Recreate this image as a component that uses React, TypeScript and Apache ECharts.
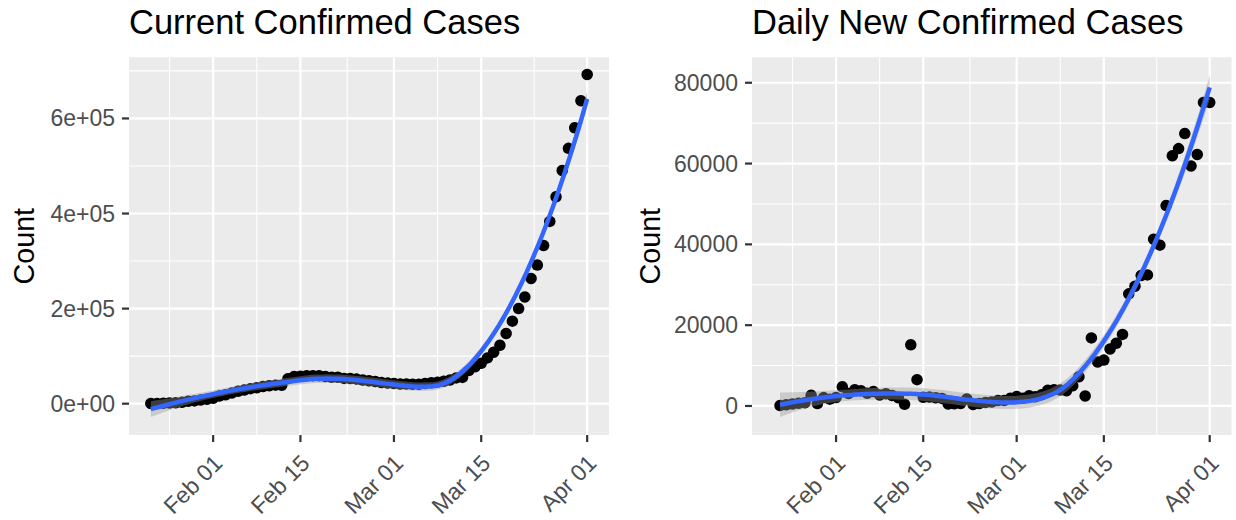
import React, { useEffect, useRef } from "react";
import * as echarts from "echarts";

const FONT = "'Liberation Sans', Arial, Helvetica, sans-serif";
const START_DATE = "2020-01-22";

// Active (current) confirmed cases worldwide, one value per day, Jan 22 - Apr 1 2020
const currentConfirmed: number[] = [
  510, 606, 879, 1353, 2010, 2784, 5340, 5907, 7920, 9492,
  11495, 15953, 18832, 22548, 25947, 28673, 31661, 33698, 36000, 37803,
  39006, 38953, 52702, 57304, 57969, 58589, 58807, 58777, 57396, 55773,
  55678, 53228, 53095, 51705, 49793, 48234, 46655, 44529, 43288,
  42657, 41619, 41452, 40696, 40742, 42476, 43931, 45325, 47108, 49954,
  54257, 55308, 69550, 77658, 84980, 96360, 108357, 122881, 147849, 173653,
  200035, 224626, 263387, 291540, 332868, 383448, 435173, 490640, 537067, 580219,
  637346, 692619,
];

// New confirmed cases per day (no difference available for the first day)
const dailyNew: (number | null)[] = [
  null, 99, 287, 493, 684, 809, 2651, 588, 2068, 1693,
  2111, 4749, 3094, 4011, 3743, 3159, 3597, 2729, 3030, 2612,
  2040, 419, 15147, 6517, 2145, 2194, 2034, 1878, 503, 558,
  622, 1753, 386, 603, 845, 982, 1358, 1366, 1899,
  2358, 1937, 2534, 2280, 2766, 3915, 4046, 3974, 3769, 5030,
  7255, 2477, 16853, 10896, 11353, 14120, 15528, 17719, 27749, 29638,
  32299, 32446, 41282, 39810, 49608, 61938, 63700, 67415, 59411, 62248,
  75122, 75118,
];

const xBreakDates = ["2020-02-01", "2020-02-15", "2020-03-01", "2020-03-15", "2020-04-01"];
const leftBreaks = [0, 200000, 400000, 600000];
const leftMinor = [100000, 300000, 500000, 700000];
const rightBreaks = [0, 20000, 40000, 60000, 80000];
const rightMinor = [10000, 30000, 50000, 70000];

const MONTHS = ["Jan", "Feb", "Mar", "Apr", "May", "Jun", "Jul", "Aug", "Sep", "Oct", "Nov", "Dec"];
const DAY_MS = 86400000;
const dayOf = (s: string) => (Date.parse(s) - Date.parse(START_DATE)) / DAY_MS;
const fmtDate = (v: number) => {
  const d = new Date(Date.parse(START_DATE) + Math.round(v) * DAY_MS);
  return `${MONTHS[d.getUTCMonth()]} ${String(d.getUTCDate()).padStart(2, "0")}`;
};
const fmtSci = (v: number) => {
  const [m, e] = v.toExponential(0).split("e");
  return `${m}e${e[0]}${e.slice(1).padStart(2, "0")}`;
};

const xMajor = xBreakDates.map(dayOf);
// minor breaks halfway between major ones, plus one step before the first
const xMinor = [xMajor[0] - (xMajor[1] - xMajor[0]) / 2].concat(
  xMajor.slice(1).map((v, i) => (v + xMajor[i]) / 2)
);

const X_MIN = -3.5;
const X_MAX = 73.5;
const LEFT_Y: [number, number] = [-66000, 728600];
const RIGHT_Y: [number, number] = [-7200, 86300];

// ---- local quadratic regression (loess, tricube weights, span 0.75) ----
function invert3(m: number[][]): number[][] {
  const [a, b, c] = m[0];
  const [d, e, f] = m[1];
  const [g, h, i] = m[2];
  const A = e * i - f * h, B = -(d * i - f * g), C = d * h - e * g;
  const det = a * A + b * B + c * C;
  return [
    [A / det, -(b * i - c * h) / det, (b * f - c * e) / det],
    [B / det, (a * i - c * g) / det, -(a * f - c * d) / det],
    [C / det, -(a * h - b * g) / det, (a * e - b * d) / det],
  ];
}

function loess(xs: number[], ys: number[], nOut = 80, span = 0.75, tCrit = 2.0) {
  const n = xs.length;
  const q = Math.floor(n * span);
  const rowAt = (x0: number): number[] => {
    const dist = xs.map((x) => Math.abs(x - x0));
    const h = [...dist].sort((p, r) => p - r)[q - 1];
    const w = dist.map((d) => {
      const r = d / h;
      return r < 1 ? Math.pow(1 - r * r * r, 3) : 0;
    });
    const basis = xs.map((x) => {
      const u = (x - x0) / h;
      return [1, u, u * u];
    });
    const S = [[0, 0, 0], [0, 0, 0], [0, 0, 0]];
    for (let k = 0; k < n; k++)
      for (let a = 0; a < 3; a++)
        for (let c = 0; c < 3; c++) S[a][c] += w[k] * basis[k][a] * basis[k][c];
    const inv = invert3(S);
    return basis.map((b, k) => w[k] * (inv[0][0] * b[0] + inv[0][1] * b[1] + inv[0][2] * b[2]));
  };
  const L = xs.map(rowAt);
  let rss = 0, trL = 0, sumSq = 0;
  L.forEach((row, i) => {
    const f = row.reduce((s, l, j) => s + l * ys[j], 0);
    rss += (ys[i] - f) ** 2;
    trL += row[i];
    row.forEach((l) => (sumSq += l * l));
  });
  const sigma = Math.sqrt(rss / (n - 2 * trL + sumSq));
  const x0 = Math.min(...xs), x1 = Math.max(...xs);
  const gx: number[] = [], fit: number[] = [], lo: number[] = [], hi: number[] = [];
  for (let k = 0; k < nOut; k++) {
    const x = x0 + ((x1 - x0) * k) / (nOut - 1);
    const row = rowAt(x);
    const f = row.reduce((s, l, j) => s + l * ys[j], 0);
    const se = sigma * Math.sqrt(row.reduce((s, l) => s + l * l, 0));
    gx.push(x); fit.push(f); lo.push(f - tCrit * se); hi.push(f + tCrit * se);
  }
  return { gx, fit, lo, hi };
}

function panelData(values: (number | null)[]) {
  const xs: number[] = [], ys: number[] = [];
  values.forEach((v, i) => {
    if (v !== null) { xs.push(i); ys.push(v); }
  });
  return { xs, ys, smooth: loess(xs, ys) };
}

const textBase = { fontFamily: FONT };
const TICK_LEN = 7;

function buildPanel(idx: number, values: (number | null)[], yMajor: number[], yMinor: number[]) {
  const { xs, ys, smooth } = panelData(values);
  // white panel grid lines, placed through the axes' scales
  const gridSeries = {
    type: "custom",
    xAxisIndex: idx, yAxisIndex: idx, z: 1, silent: true,
    data: [[0, 0]],
    renderItem: (params: any, api: any) => {
      const cs = params.coordSys;
      const bottom = cs.y + cs.height;
      const children: any[] = [];
      const seg = (x1: number, y1: number, x2: number, y2: number, lw: number) =>
        children.push({ type: "line", shape: { x1, y1, x2, y2 }, style: { stroke: "#FFFFFF", lineWidth: lw } });
      xMinor.forEach((v) => { const px = api.coord([v, 0])[0]; seg(px, cs.y, px, bottom, 1.1); });
      yMinor.forEach((v) => { const py = api.coord([0, v])[1]; seg(cs.x, py, cs.x + cs.width, py, 1.1); });
      xMajor.forEach((v) => { const px = api.coord([v, 0])[0]; seg(px, cs.y, px, bottom, 2.2); });
      yMajor.forEach((v) => { const py = api.coord([0, v])[1]; seg(cs.x, py, cs.x + cs.width, py, 2.2); });
      return { type: "group", children };
    },
  };
  const points = {
    type: "scatter", xAxisIndex: idx, yAxisIndex: idx, z: 2, silent: true,
    symbol: "circle", symbolSize: 11.5,
    itemStyle: { color: "#000000", opacity: 1 },
    data: xs.map((x, i) => [x, ys[i]]),
  };
  const ribbon = {
    type: "custom", xAxisIndex: idx, yAxisIndex: idx, z: 3, silent: true,
    data: [[0, 0]],
    renderItem: (_params: any, api: any) => {
      const upper = smooth.gx.map((x, k) => api.coord([x, smooth.hi[k]]));
      const lower = smooth.gx.map((x, k) => api.coord([x, smooth.lo[k]])).reverse();
      return { type: "polygon", shape: { points: upper.concat(lower) }, style: { fill: "#999999", opacity: 0.4 } };
    },
  };
  const line = {
    type: "line", xAxisIndex: idx, yAxisIndex: idx, z: 4, silent: true,
    showSymbol: false, symbol: "none",
    lineStyle: { color: "#3366FF", width: 4.5 },
    data: smooth.gx.map((x, k) => [x, smooth.fit[k]]),
  };
  const xAxis = {
    type: "value", gridIndex: idx, min: X_MIN, max: X_MAX,
    axisLine: { show: false, onZero: false },
    splitLine: { show: false },
    axisTick: { show: false },
    axisLabel: {
      customValues: xMajor, formatter: fmtDate, rotate: 45, margin: 29, padding: [0, -7, 0, 0],
      color: "#4D4D4D", fontSize: 23, ...textBase,
    },
  };
  return { series: [gridSeries, points, ribbon, line], xAxis };
}

const left = buildPanel(0, currentConfirmed, leftBreaks, leftMinor);
const right = buildPanel(1, dailyNew, rightBreaks, rightMinor);

const yAxisOf = (idx: number, range: [number, number], major: number[], fmt: (v: number) => string, nameGap: number) => ({
  type: "value", gridIndex: idx, min: range[0], max: range[1],
  name: "Count", nameLocation: "middle", nameRotate: 90, nameGap,
  nameTextStyle: { color: "#000000", fontSize: 28.7, ...textBase },
  axisLine: { show: false, onZero: false },
  splitLine: { show: false },
  axisTick: { show: false },
  axisLabel: { customValues: major, formatter: fmt, margin: 14, color: "#4D4D4D", fontSize: 23, ...textBase },
});

const option = {
  animation: false,
  backgroundColor: "#FFFFFF",
  title: [
    { text: "Current Confirmed Cases", left: 129, top: 4, padding: 0, textStyle: { color: "#000000", fontSize: 34.5, fontWeight: "normal", ...textBase } },
    { text: "Daily New Confirmed Cases", left: 752, top: 4, padding: 0, textStyle: { color: "#000000", fontSize: 34.5, fontWeight: "normal", ...textBase } },
  ],
  grid: [
    { left: 129, top: 57.3, width: 480, height: 382.7, show: true, backgroundColor: "#EBEBEB", borderWidth: 0, containLabel: false },
    { left: 752, top: 57.3, width: 479.5, height: 382.7, show: true, backgroundColor: "#EBEBEB", borderWidth: 0, containLabel: false },
  ],
  xAxis: [left.xAxis, right.xAxis],
  yAxis: [
    yAxisOf(0, LEFT_Y, leftBreaks, fmtSci, 90.5),
    yAxisOf(1, RIGHT_Y, rightBreaks, (v) => String(v), 88),
  ],
  series: [...left.series, ...right.series],
};

// Outside tick marks (dark grey) at the major breaks, positioned with the axes' own scales
function tickMarks(chart: echarts.ECharts) {
  const els: any[] = [];
  const panels: { idx: number; yRange: [number, number]; yMajor: number[] }[] = [
    { idx: 0, yRange: LEFT_Y, yMajor: leftBreaks },
    { idx: 1, yRange: RIGHT_Y, yMajor: rightBreaks },
  ];
  panels.forEach(({ idx, yRange, yMajor }) => {
    const bottom = chart.convertToPixel({ yAxisIndex: idx } as any, yRange[0]) as unknown as number;
    const leftEdge = chart.convertToPixel({ xAxisIndex: idx } as any, X_MIN) as unknown as number;
    xMajor.forEach((v) => {
      const px = chart.convertToPixel({ xAxisIndex: idx } as any, v) as unknown as number;
      els.push({ type: "line", silent: true, z: 10, shape: { x1: px, y1: bottom, x2: px, y2: bottom + TICK_LEN }, style: { stroke: "#333333", lineWidth: 2.2 } });
    });
    yMajor.forEach((v) => {
      const py = chart.convertToPixel({ yAxisIndex: idx } as any, v) as unknown as number;
      els.push({ type: "line", silent: true, z: 10, shape: { x1: leftEdge - TICK_LEN, y1: py, x2: leftEdge, y2: py }, style: { stroke: "#333333", lineWidth: 2.2 } });
    });
  });
  return els;
}

export default function App() {
  const ref = useRef<HTMLDivElement>(null);
  useEffect(() => {
    if (!ref.current) return;
    const chart = echarts.init(ref.current, null, { renderer: "svg" });
    chart.setOption(option as any);
    chart.setOption({ graphic: { elements: tickMarks(chart) } } as any);
    return () => chart.dispose();
  }, []);
  return (
    <div
      ref={ref}
      style={{ position: "fixed", left: 0, top: 0, width: 1236, height: 520, background: "#FFFFFF" }}
    />
  );
}
